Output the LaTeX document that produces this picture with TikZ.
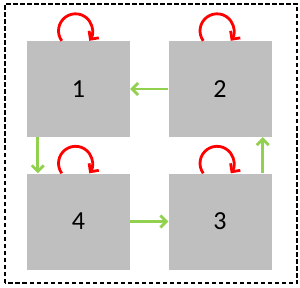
\documentclass[tikz,border=0pt]{standalone}
\usepackage{fontspec}
\setmainfont{Carlito}
\usetikzlibrary{arrows.meta}
\definecolor{boxgray}{RGB}{191,191,191}
\definecolor{movegreen}{RGB}{146,208,80}

\begin{document}
\begin{tikzpicture}[x=1pt, y=1pt,
  state/.style={fill=boxgray, minimum width=103pt, minimum height=96pt, inner sep=0pt, font=\fontsize{26}{30}\selectfont},
  move/.style={draw=movegreen, line width=2.8pt, -{Straight Barb[length=6pt,width=12pt]}},
  stay/.style={draw=red, line width=2.8pt, -{Straight Barb[length=6pt,width=12pt]}}]

\useasboundingbox (0,0) rectangle (300,287);
\draw[line width=1.3pt, dash pattern=on 4.5pt off 2.5pt] (5,4) rectangle (297,283);

\node[state] (b1) at (78.5,198) {1};
\node[state] (b2) at (220,198) {2};
\node[state] (b3) at (220,65.5) {3};
\node[state] (b4) at (78.5,65.5) {4};

\foreach \b in {b1,b2,b3,b4}
{
    \draw[stay] ([xshift=-16.75pt]\b.north) arc[start angle=216, end angle=-36, radius=17pt];
}

\draw[move] (b2.west) -- (b1.east);
\draw[move] ([xshift=11pt]b1.south west) -- ([xshift=11pt]b4.north west);
\draw[move] (b4.east) -- (b3.west);
\draw[move] ([xshift=-9pt]b3.north east) -- ([xshift=-9pt]b2.south east);

\end{tikzpicture}
\end{document}
